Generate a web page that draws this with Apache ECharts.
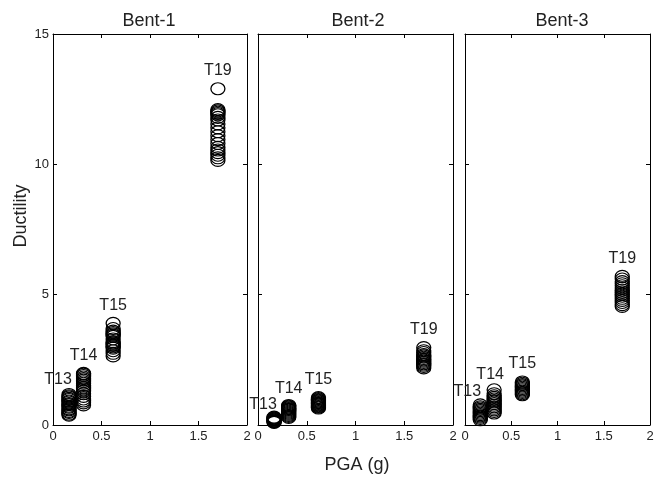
<!DOCTYPE html>
<html><head><meta charset="utf-8">
<script src="https://cdn.jsdelivr.net/npm/echarts@6/dist/echarts.min.js"></script>
<style>html,body{margin:0;padding:0;background:#fff}#c{width:663px;height:478px}</style>
</head><body><div id="c"></div>
<script>
// ---- data ----
const panels = ['Bent-1', 'Bent-2', 'Bent-3'];
const groups = ['T13', 'T14', 'T15', 'T19'];
const pga = [0.165, 0.315, 0.62, 1.70];
const xTickLabels = ['0', '0.5', '1', '1.5', '2'];
const yTickLabels = ['0', '5', '10', '15'];

const bent1_T13 = [0.38, 0.42, 0.48, 0.52, 0.58, 0.62, 0.68, 0.72, 0.78, 0.82, 0.88, 0.92, 0.98, 1.02, 1.08, 1.12, 1.17];
const bent1_T14 = [0.77, 0.85, 0.92, 1.0, 1.1, 1.2, 1.3, 1.38, 1.45, 1.52, 1.6, 1.66, 1.72, 1.78, 1.84, 1.9, 1.95, 1.98];
const bent1_T15 = [2.65, 2.75, 2.85, 2.95, 3.0, 3.05, 3.1, 3.15, 3.2, 3.3, 3.4, 3.45, 3.5, 3.55, 3.6, 3.7, 3.9];
const bent1_T19 = [10.15, 10.25, 10.35, 10.45, 10.55, 10.65, 10.8, 10.95, 11.1, 11.25, 11.4, 11.55, 11.7, 11.8, 11.9, 11.95, 12.0, 12.05, 12.1, 12.9];

const bent2_T13 = [0.1, 0.12, 0.14, 0.16, 0.18, 0.2, 0.22, 0.24, 0.26, 0.28, 0.3];
const bent2_T14 = [0.29, 0.33, 0.37, 0.41, 0.45, 0.49, 0.53, 0.57, 0.6, 0.63, 0.66, 0.69, 0.72, 0.75];
const bent2_T15 = [0.65, 0.68, 0.71, 0.74, 0.77, 0.8, 0.83, 0.86, 0.89, 0.92, 0.95, 0.98, 1.01, 1.05];
const bent2_T19 = [2.19, 2.25, 2.3, 2.35, 2.4, 2.45, 2.5, 2.55, 2.6, 2.65, 2.7, 2.78, 2.85, 2.97];

const bent3_T13 = [0.2, 0.25, 0.3, 0.35, 0.4, 0.45, 0.5, 0.55, 0.6, 0.65, 0.7, 0.77];
const bent3_T14 = [0.46, 0.52, 0.58, 0.64, 0.7, 0.76, 0.82, 0.88, 0.94, 1.0, 1.06, 1.12, 1.2, 1.35];
const bent3_T15 = [1.16, 1.2, 1.25, 1.3, 1.35, 1.4, 1.45, 1.5, 1.55, 1.6, 1.65];
const bent3_T19 = [4.55, 4.62, 4.7, 4.78, 4.86, 4.94, 5.02, 5.1, 5.18, 5.26, 5.34, 5.42, 5.5, 5.6, 5.7];

const bentData = [
  [bent1_T13, bent1_T14, bent1_T15, bent1_T19],
  [bent2_T13, bent2_T14, bent2_T15, bent2_T19],
  [bent3_T13, bent3_T14, bent3_T15, bent3_T19]
];

// ---- layout / style ----
const gridBoxes = [{left: 53, width: 194}, {left: 258, width: 195}, {left: 465, width: 185}];
const titleX = [149, 358, 562];
const labelOffsets = [
  [[-11, 3], [0, 0], [0, 0], [0, 0]],
  [[-11, 5], [0, 1], [0, 0], [0, 0]],
  [[-13, 5], [-4, 3], [0, 0], [0, 0]]
];
const textColor = '#222';
const font = 'Liberation Sans, Arial, Helvetica, sans-serif';
const ellipse = 'path://M0,6A7,6 0 1 1 14,6A7,6 0 1 1 0,6Z';

const grid = [], xAxis = [], yAxis = [], series = [];
gridBoxes.forEach((g, i) => {
  grid.push({left: g.left, width: g.width, top: 34, height: 391, show: false});
  const axisLine = {show: true, onZero: false, lineStyle: {color: '#000', width: 1}};
  const tick = {show: true, inside: true, length: 4, lineStyle: {color: '#000', width: 1}};
  xAxis.push({
    type: 'value', gridIndex: i, position: 'bottom', min: 0, max: 2, interval: 0.5,
    axisLine, axisTick: tick, splitLine: {show: false},
    axisLabel: {show: true, fontSize: 13, color: textColor, fontFamily: font, margin: 5,
      formatter: v => xTickLabels[Math.round(v * 2)]}
  });
  xAxis.push({
    type: 'value', gridIndex: i, position: 'top', min: 0, max: 2, interval: 0.5,
    axisLine, axisTick: tick, splitLine: {show: false}, axisLabel: {show: false}
  });
  yAxis.push({
    type: 'value', gridIndex: i, position: 'left', min: 0, max: 15, interval: 5,
    axisLine, axisTick: tick, splitLine: {show: false},
    axisLabel: {show: i === 0, fontSize: 13, color: textColor, fontFamily: font, margin: 4,
      formatter: v => yTickLabels[Math.round(v / 5)]}
  });
  yAxis.push({
    type: 'value', gridIndex: i, position: 'right', min: 0, max: 15, interval: 5,
    axisLine, axisTick: tick, splitLine: {show: false}, axisLabel: {show: false}
  });
  bentData[i].forEach((vals, k) => {
    const maxV = Math.max(...vals);
    let labeled = false;
    const data = vals.map(v => {
      const item = {value: [pga[k], v]};
      if (v === maxV && !labeled) {
        labeled = true;
        item.label = {show: true, position: 'top', distance: 3.5, formatter: groups[k],
          offset: labelOffsets[i][k], fontSize: 16, color: textColor, fontFamily: font};
      }
      return item;
    });
    series.push({
      type: 'scatter', xAxisIndex: 2 * i, yAxisIndex: 2 * i, symbol: ellipse, symbolSize: [14, 12],
      itemStyle: {color: 'rgba(0,0,0,0)', borderColor: '#000', borderWidth: 1.2, opacity: 1},
      emphasis: {disabled: true}, silent: true, animation: false, data
    });
  });
});

const graphic = panels.map((p, i) => ({
  type: 'text', x: titleX[i], y: 21,
  style: {text: p, fontSize: 18, fill: textColor, fontFamily: font, textAlign: 'center', textVerticalAlign: 'middle'}
}));
graphic.push({type: 'text', x: 21, y: 216, rotation: Math.PI / 2,
  style: {text: 'Ductility', fontSize: 18, fill: textColor, fontFamily: font, textAlign: 'center', textVerticalAlign: 'middle'}});
graphic.push({type: 'text', x: 357, y: 465,
  style: {text: 'PGA (g)', fontSize: 18, fill: textColor, fontFamily: font, textAlign: 'center', textVerticalAlign: 'middle'}});

const chart = echarts.init(document.getElementById('c'), null, {renderer: 'canvas'});
chart.setOption({animation: false, backgroundColor: '#fff', grid, xAxis, yAxis, series, graphic});
</script>
</body></html>
